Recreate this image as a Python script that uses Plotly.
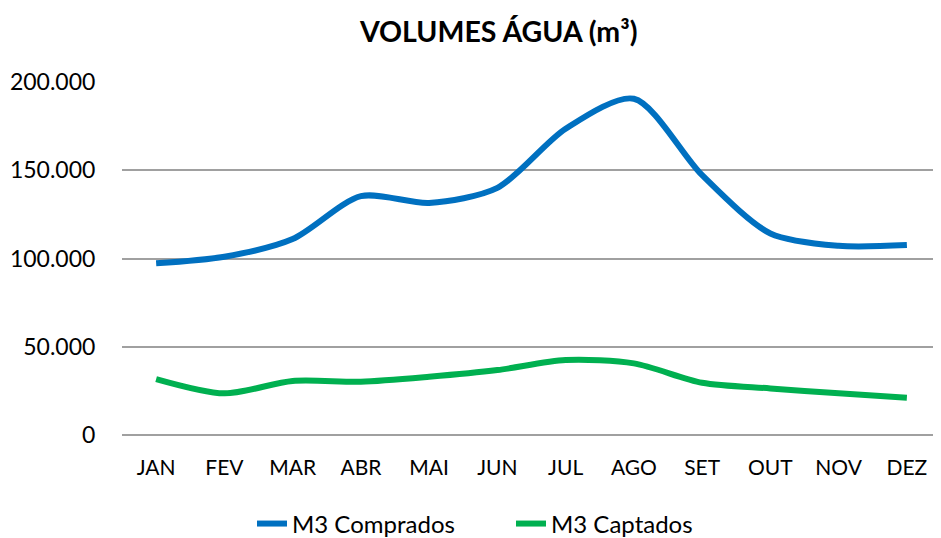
import plotly.graph_objects as go

meses = ["JAN", "FEV", "MAR", "ABR", "MAI", "JUN", "JUL", "AGO", "SET", "OUT", "NOV", "DEZ"]
comprados = [97300, 101000, 111000, 135300, 131500, 140000, 173500, 190500, 147200, 114200, 107200, 107600]
captados = [31700, 23600, 30600, 30200, 33000, 36800, 42500, 40600, 29600, 26400, 23600, 21100]
y_ticks = [0, 50000, 100000, 150000, 200000]

FONT = "Lato, 'Open Sans', sans-serif"

fig = go.Figure()
fig.add_trace(go.Scatter(x=meses, y=comprados, name="M3 Comprados", mode="lines",
                         line=dict(color="#0070C0", width=6, shape="spline", smoothing=0.8)))
fig.add_trace(go.Scatter(x=meses, y=captados, name="M3 Captados", mode="lines",
                         line=dict(color="#00B050", width=6, shape="spline", smoothing=0.8)))

fig.update_layout(
    width=933, height=530,
    margin=dict(l=114, r=0, t=74, b=103, autoexpand=False),
    paper_bgcolor="white", plot_bgcolor="white",
    separators=",.",
    font=dict(family=FONT, color="#000000"),
    title=dict(text="<b>VOLUMES ÁGUA (m³)</b>", x=0.526, xanchor="center", y=0.955, yanchor="middle",
               font=dict(size=28.5, family=FONT, color="#000000")),
    xaxis=dict(range=[-0.5, 11.5], showgrid=False, showline=False, zeroline=False,
               ticks="outside", ticklen=14, tickcolor="rgba(0,0,0,0)",
               tickfont=dict(size=21, family=FONT)),
    yaxis=dict(range=[0, 200000], tickvals=y_ticks, tickformat=",.0f",
               showgrid=True, gridcolor="#A0A0A0", gridwidth=1.5,
               zeroline=True, zerolinecolor="#A0A0A0", zerolinewidth=1.5,
               showline=False, ticks="outside", ticklen=21, tickcolor="rgba(0,0,0,0)",
               tickfont=dict(size=23, family=FONT)),
    legend=dict(orientation="h", x=0.475, xanchor="center", y=-0.252, yanchor="middle",
                font=dict(size=24, family=FONT), traceorder="normal",
                entrywidth=214, entrywidthmode="pixels"),
    showlegend=True,
)

fig.write_html("out.html")
